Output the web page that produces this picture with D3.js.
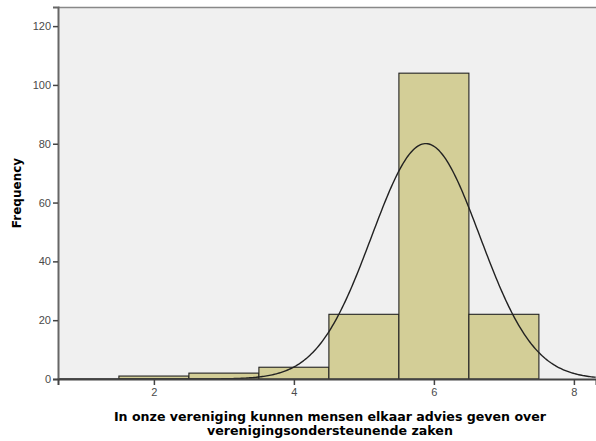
<!DOCTYPE html>
<html>
<head>
<meta charset="utf-8">
<script src="https://cdn.jsdelivr.net/npm/d3@7"></script>
<style>
  body { margin: 0; background: #fff; }
  .tick text { font-family: "Liberation Sans", Arial, sans-serif; font-size: 11px; fill: #4a4a4a; }
</style>
</head>
<body>
<svg id="chart" width="596" height="441"></svg>
<script>
// histogram bins (lower edge, upper edge) and counts
var binLo = [1.5, 2.5, 3.5, 4.5, 5.5, 6.5];
var binHi = [2.5, 3.5, 4.5, 5.5, 6.5, 7.5];
var counts = [1, 2, 4, 22, 104, 22];
var xTicks = [2, 4, 6, 8];
var yTicks = [0, 20, 40, 60, 80, 100, 120];
var xTitle = ["In onze vereniging kunnen mensen elkaar advies geven over", "verenigingsondersteunende zaken"];
var yTitle = "Frequency";

var svg = d3.select("#chart"),
  margin = {top: 7, right: 0, bottom: 62, left: 58},
  width = +svg.attr("width") - margin.left - margin.right,
  height = +svg.attr("height") - margin.top - margin.bottom;
var g = svg.append("g").attr("transform", "translate(" + margin.left + "," + margin.top + ")");

var x = d3.scaleLinear()
  .domain([0.63, 0.63 + width / 70])
  .range([0, width]);

var y = d3.scaleLinear()
  .domain([0, 126.5])
  .range([height, 0]);

// plot background
g.append("rect")
  .attr("width", width)
  .attr("height", height)
  .attr("fill", "#f0f0f0");

// bars
var bins = counts.map(function(c, i) { return {lo: binLo[i], hi: binHi[i], n: c}; });
g.selectAll(".bar")
  .data(bins)
  .enter().append("rect")
  .attr("class", "bar")
  .attr("x", d => x(d.lo))
  .attr("y", d => y(d.n))
  .attr("width", d => x(d.hi) - x(d.lo))
  .attr("height", d => y(0) - y(d.n))
  .attr("fill", "#d3ce97")
  .attr("stroke", "#222")
  .attr("stroke-width", 1.1);

// normal curve from mean / sd of the binned data
var N = d3.sum(counts);
var mids = bins.map(d => (d.lo + d.hi) / 2);
var mean = d3.sum(bins, (d, i) => mids[i] * d.n) / N;
var sd = Math.sqrt(d3.sum(bins, (d, i) => d.n * Math.pow(mids[i] - mean, 2)) / (N - 1));
var curve = d3.range(x.domain()[0], x.domain()[1], 0.02).map(function(v) {
  return [v, N * 1 / (sd * Math.sqrt(2 * Math.PI)) * Math.exp(-0.5 * Math.pow((v - mean) / sd, 2))];
});
g.append("path")
  .datum(curve)
  .attr("fill", "none")
  .attr("stroke", "#222")
  .attr("stroke-width", 1.4)
  .attr("d", d3.line().x(d => x(d[0])).y(d => y(d[1])));

// frame: top
g.append("line")
  .attr("x1", 0).attr("x2", width).attr("y1", 0.5).attr("y2", 0.5)
  .attr("stroke", "#888").attr("stroke-width", 1.5);

// axes
var yAxis = g.append("g")
  .call(d3.axisLeft(y).tickValues(yTicks).tickSize(5).tickPadding(2));
yAxis.select(".domain").attr("stroke", "#666").attr("stroke-width", 2);
yAxis.selectAll(".tick line").attr("stroke", "#444").attr("stroke-width", 1.5);

var xAxis = g.append("g")
  .attr("transform", "translate(0," + height + ")")
  .call(d3.axisBottom(x).tickValues(xTicks).tickSize(6).tickPadding(3));
xAxis.select(".domain").attr("stroke", "#444").attr("stroke-width", 2);
xAxis.selectAll(".tick line").attr("stroke", "#444").attr("stroke-width", 1.5);

// titles
svg.append("text")
  .attr("transform", "translate(21," + (margin.top + height / 2) + ") rotate(-90)")
  .attr("text-anchor", "middle")
  .style("font-family", "'DejaVu Sans', sans-serif")
  .style("font-size", "12px")
  .style("font-weight", "bold")
  .text(yTitle);

svg.selectAll(".xtitle")
  .data(xTitle)
  .enter().append("text")
  .attr("x", 330)
  .attr("y", (d, i) => 421 + i * 14)
  .attr("text-anchor", "middle")
  .style("font-family", "'DejaVu Sans', sans-serif")
  .style("font-size", "12.6px")
  .style("font-weight", "bold")
  .text(d => d);
</script>
</body>
</html>
